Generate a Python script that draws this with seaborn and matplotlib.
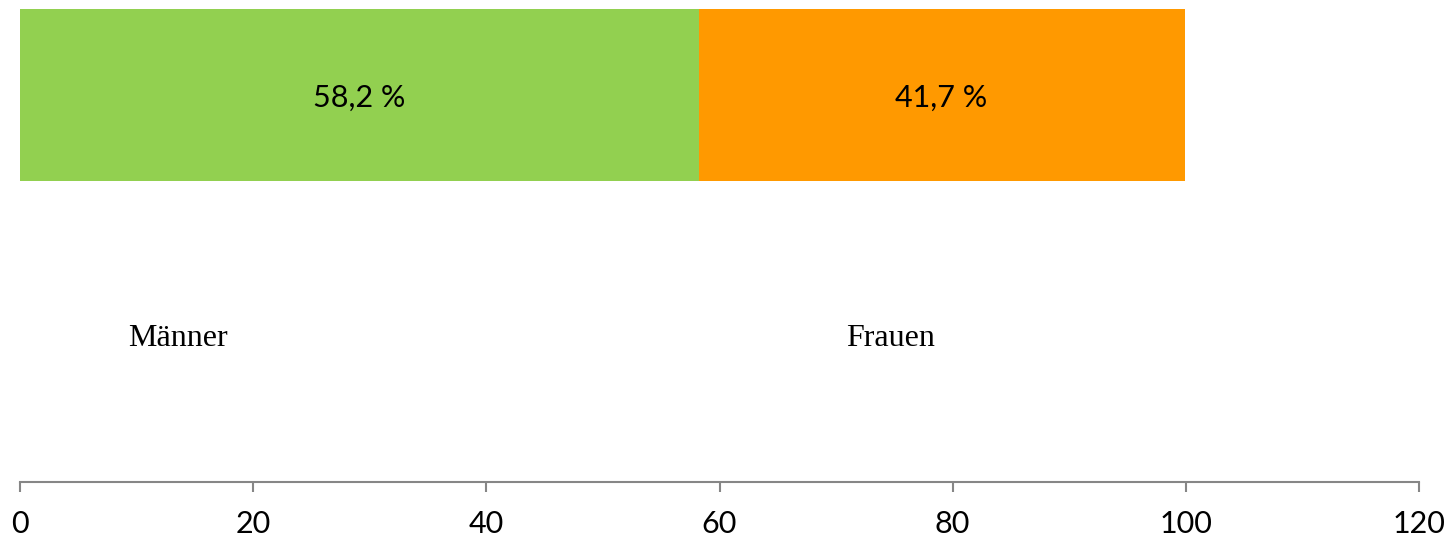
import matplotlib
matplotlib.use("Agg")
import matplotlib.pyplot as plt
import seaborn as sns
import pandas as pd

groups = ["Männer", "Frauen"]
shares = [58.2, 41.7]
value_labels = ["58,2 %", "41,7 %"]
colors = ["#92D050", "#FF9900"]
x_ticks = [0, 20, 40, 60, 80, 100, 120]

sns.set_theme(style="white")
plt.rcParams["font.family"] = ["Lato", "DejaVu Sans"]

fig = plt.figure(figsize=(14.52, 5.40), dpi=100)
ax = fig.add_axes([20 / 1452, 58 / 540, 1399 / 1452, 482 / 540])

# Stacked horizontal bar: draw the cumulative total first, then the first segment over it
df = pd.DataFrame({"row": ["Anteil"], "Männer": [shares[0]],
                   "Gesamt": [shares[0] + shares[1]]})
sns.barplot(data=df, x="Gesamt", y="row", orient="h", color=colors[1],
            saturation=1, width=0.8, ax=ax)
sns.barplot(data=df, x="Männer", y="row", orient="h", color=colors[0],
            saturation=1, width=0.8, ax=ax)
for p in ax.patches:
    p.set_edgecolor("none")

# Value labels centred in each segment
left = 0
for val, lab in zip(shares, value_labels):
    ax.text(left + val / 2, 0.015, lab, ha="center", va="center",
            fontsize=22, color="black")
    left += val

# Group names beneath the bar
label_x = [13.55, 74.7]
for gx, g in zip(label_x, groups):
    ax.text(gx, 0.297, g, transform=ax.get_xaxis_transform(), ha="center",
            va="center", fontsize=23, family=["Liberation Serif", "DejaVu Serif"],
            color="black")

ax.set_xlim(0, 120)
ax.set_ylim(1.8, -0.442)
ax.set_xticks(x_ticks)
ax.set_xticklabels([str(t) for t in x_ticks], fontsize=22, color="black")
ax.set_yticks([])
ax.set_xlabel("")
ax.set_ylabel("")
for s in ["left", "right", "top"]:
    ax.spines[s].set_visible(False)
ax.spines["bottom"].set_color("#868686")
ax.spines["bottom"].set_linewidth(1.5)
ax.tick_params(axis="x", direction="out", length=7, width=1.5,
               color="#868686", pad=13, bottom=True)

fig.savefig("out.png", dpi=100)
